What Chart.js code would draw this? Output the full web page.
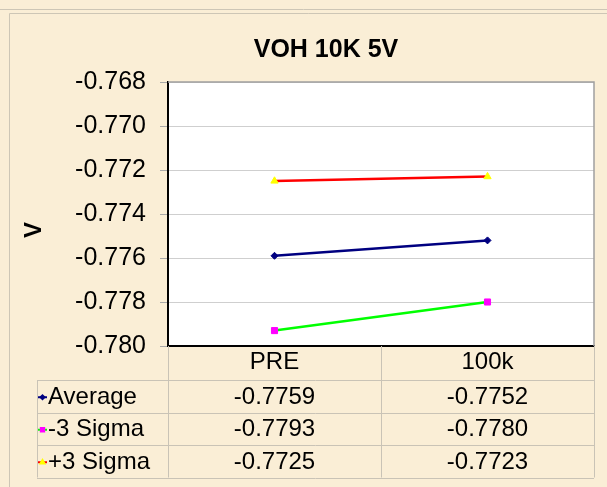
<!DOCTYPE html>
<html lang="en">
<head>
<meta charset="UTF-8">
<title>VOH 10K 5V</title>
<script src="https://cdn.jsdelivr.net/npm/chart.js"></script>
<style>
  html, body { margin: 0; padding: 0; background: #faeed6; }
  .wrap { position: relative; width: 607px; height: 487px; }
</style>
</head>
<body>
<div class="wrap"><canvas id="chart" width="607" height="487"></canvas></div>
<script>
// data
const categories = ['PRE', '100k'];
const seriesNames = ['Average', '-3 Sigma', '+3 Sigma'];
const average = [-0.7759, -0.7752];
const minus3Sigma = [-0.7793, -0.7780];
const plus3Sigma = [-0.7725, -0.7723];
const yTicks = [-0.780, -0.778, -0.776, -0.774, -0.772, -0.770, -0.768];

const FONT = '"Liberation Sans", Arial, sans-serif';
Chart.defaults.font.family = FONT;
Chart.defaults.color = '#000';

const seriesStyle = [
  { line: '#000080', point: '#000080', shape: 'rectRot', r: 3.5 },
  { line: '#00ff00', point: '#ff00ff', shape: 'rect', r: 4.3 },
  { line: '#ff0000', point: '#ffff00', shape: 'triangle', r: 4.2 }
];
const seriesData = [average, minus3Sigma, plus3Sigma];

// background, frame, title, axis label and data table
const excelLook = {
  id: 'excelLook',
  beforeDraw(chart) {
    const ctx = chart.ctx, a = chart.chartArea;
    ctx.save();
    ctx.fillStyle = '#faeed6';
    ctx.fillRect(0, 0, chart.width, chart.height);
    ctx.strokeStyle = '#cdc6b6';
    ctx.lineWidth = 1;
    ctx.beginPath();
    ctx.moveTo(0, 9.5); ctx.lineTo(chart.width, 9.5);
    ctx.moveTo(9.5, chart.height); ctx.lineTo(9.5, 13.5); ctx.lineTo(chart.width, 13.5);
    ctx.stroke();
    ctx.fillStyle = '#ffffff';
    ctx.fillRect(a.left, a.top, a.right - a.left, a.bottom - a.top);
    ctx.restore();
  },
  afterDraw(chart) {
    const ctx = chart.ctx, a = chart.chartArea, xs = chart.scales.x;
    ctx.save();
    // plot border top/right
    ctx.strokeStyle = '#a0a0a0';
    ctx.lineWidth = 1.5;
    ctx.beginPath();
    ctx.moveTo(a.left, a.top); ctx.lineTo(a.right, a.top); ctx.lineTo(a.right, a.bottom);
    ctx.stroke();

    // title
    ctx.fillStyle = '#000';
    ctx.font = 'bold 25px ' + FONT;
    ctx.textAlign = 'center';
    ctx.textBaseline = 'middle';
    ctx.fillText('VOH 10K 5V', 326, 50);

    // y axis title
    ctx.save();
    ctx.translate(34, 230);
    ctx.rotate(-Math.PI / 2);
    ctx.font = 'bold 24px ' + FONT;
    ctx.fillText('V', 0, 0);
    ctx.restore();

    // data table
    const half = (xs.getPixelForValue(1) - xs.getPixelForValue(0)) / 2;
    const cols = [a.left];
    categories.forEach((c, i) => cols.push(xs.getPixelForValue(i) + half));
    const tableLeft = 37, headBottom = 380, rowH = 32.5;
    const tableBottom = headBottom + rowH * seriesNames.length;
    ctx.strokeStyle = '#c9c3b6';
    ctx.lineWidth = 1;
    ctx.beginPath();
    cols.forEach(x => { ctx.moveTo(Math.round(x) + 0.5, a.bottom); ctx.lineTo(Math.round(x) + 0.5, tableBottom); });
    ctx.moveTo(tableLeft + 0.5, headBottom); ctx.lineTo(tableLeft + 0.5, tableBottom);
    for (let r = 0; r <= seriesNames.length; r++) {
      const y = Math.round(headBottom + r * rowH) + 0.5;
      ctx.moveTo(tableLeft, y); ctx.lineTo(a.right, y);
    }
    ctx.stroke();

    ctx.font = '24px ' + FONT;
    seriesNames.forEach((name, r) => {
      const cy = headBottom + rowH * r + rowH / 2 + 1;
      const st = seriesStyle[r];
      // legend key
      ctx.strokeStyle = st.line;
      ctx.lineWidth = 2;
      ctx.beginPath();
      ctx.moveTo(tableLeft + 1, cy); ctx.lineTo(tableLeft + 10, cy);
      ctx.stroke();
      ctx.fillStyle = st.point;
      ctx.strokeStyle = st.point;
      Chart.helpers.drawPoint(ctx, { pointStyle: st.shape, radius: st.r * 0.55, borderWidth: 0.5 }, tableLeft + 5.5, cy);
      ctx.fillStyle = '#000';
      ctx.textAlign = 'left';
      ctx.fillText(name, tableLeft + 11, cy);
      ctx.textAlign = 'center';
      seriesData[r].forEach((v, i) => {
        ctx.fillText(v.toFixed(4), xs.getPixelForValue(i), cy);
      });
    });
    ctx.restore();
  }
};

new Chart(document.getElementById('chart'), {
  type: 'line',
  data: {
    labels: categories,
    datasets: seriesNames.map((name, i) => ({
      label: name,
      data: seriesData[i],
      borderColor: seriesStyle[i].line,
      borderWidth: 2.5,
      pointStyle: seriesStyle[i].shape,
      pointRadius: seriesStyle[i].r,
      pointBackgroundColor: seriesStyle[i].point,
      pointBorderColor: seriesStyle[i].point,
      pointBorderWidth: 1,
      tension: 0
    }))
  },
  options: {
    responsive: false,
    animation: false,
    events: [],
    layout: { padding: { left: 0, top: 82, right: 13, bottom: 0 } },
    plugins: { legend: { display: false }, tooltip: { enabled: false } },
    scales: {
      x: {
        offset: true,
        grid: { drawOnChartArea: false, drawTicks: false },
        border: { color: '#000', width: 2 },
        ticks: { font: { size: 24 }, padding: 2, maxRotation: 0 },
        afterFit(scale) { scale.height = 141; }
      },
      y: {
        min: -0.780,
        max: -0.768,
        afterBuildTicks(scale) { scale.ticks = yTicks.map(v => ({ value: v })); },
        grid: { color: '#cfcfcf', tickColor: '#a8a8a8', tickLength: 8, lineWidth: 1 },
        border: { color: '#000', width: 2 },
        ticks: { font: { size: 25 }, padding: 14, callback: v => v.toFixed(3) },
        afterFit(scale) { scale.width = 168; }
      }
    }
  },
  plugins: [excelLook]
});
</script>
</body>
</html>
